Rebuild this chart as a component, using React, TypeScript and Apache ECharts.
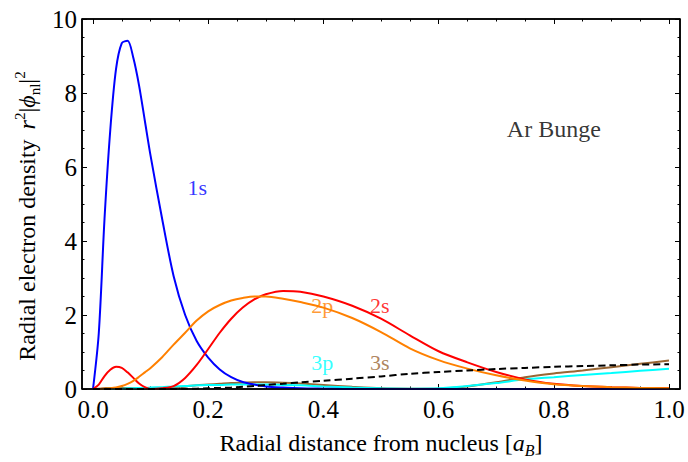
import React, { useEffect, useRef } from "react";
import * as echarts from "echarts";

// radial distance grid [a_B]
const radius = [0, 0.01, 0.02, 0.03, 0.04, 0.05, 0.06, 0.07, 0.08, 0.09, 0.1, 0.12, 0.14, 0.16, 0.18, 0.2, 0.22, 0.24, 0.26, 0.28, 0.3, 0.33, 0.36, 0.4, 0.45, 0.5, 0.55, 0.6, 0.65, 0.7, 0.75, 0.8, 0.85, 0.9, 0.95, 1.0];

const rho1s = [0, 1.5, 4.6, 7.0, 8.65, 9.35, 9.41, 8.95, 8.2, 7.25, 6.3, 4.6, 3.05, 2.0, 1.3, 0.85, 0.53, 0.32, 0.19, 0.12, 0.07, 0.04, 0.02, 0.01, 0, 0, 0, 0, 0, 0, 0, 0, 0, 0, 0, 0];
const rho2s = [0, 0.12, 0.35, 0.52, 0.6, 0.57, 0.45, 0.3, 0.15, 0.05, 0.0, 0.02, 0.08, 0.3, 0.65, 1.08, 1.52, 1.9, 2.2, 2.42, 2.56, 2.65, 2.63, 2.5, 2.25, 1.9, 1.45, 1.02, 0.72, 0.46, 0.26, 0.14, 0.08, 0.05, 0.03, 0.02];
const rho2p = [0, 0, 0.01, 0.02, 0.04, 0.08, 0.14, 0.22, 0.33, 0.45, 0.57, 0.86, 1.2, 1.52, 1.85, 2.1, 2.27, 2.39, 2.46, 2.5, 2.5, 2.44, 2.35, 2.2, 1.92, 1.54, 1.1, 0.78, 0.55, 0.37, 0.23, 0.13, 0.08, 0.05, 0.03, 0.02];
const rho3s = [0, 0.01, 0.02, 0.03, 0.03, 0.03, 0.03, 0.02, 0.02, 0.02, 0.02, 0.03, 0.05, 0.07, 0.1, 0.12, 0.14, 0.16, 0.17, 0.18, 0.18, 0.17, 0.15, 0.11, 0.06, 0.02, 0.01, 0.01, 0.07, 0.18, 0.32, 0.42, 0.5, 0.59, 0.68, 0.77];
const rho3p = [0, 0, 0, 0.01, 0.01, 0.01, 0.02, 0.02, 0.03, 0.03, 0.04, 0.05, 0.07, 0.08, 0.1, 0.11, 0.11, 0.12, 0.12, 0.12, 0.12, 0.11, 0.1, 0.07, 0.04, 0.02, 0.01, 0.02, 0.08, 0.16, 0.26, 0.32, 0.38, 0.43, 0.49, 0.55];
const rhoDashed = [0, 0, 0, 0, 0, 0, 0, 0, 0, 0, 0, 0, 0, 0.01, 0.01, 0.02, 0.03, 0.04, 0.06, 0.08, 0.11, 0.14, 0.18, 0.22, 0.28, 0.34, 0.41, 0.46, 0.5, 0.54, 0.57, 0.6, 0.62, 0.64, 0.66, 0.67];

const xMajorTicks = [0, 0.2, 0.4, 0.6, 0.8, 1.0];
const xMinorTicks = [0.05, 0.1, 0.15, 0.25, 0.3, 0.35, 0.45, 0.5, 0.55, 0.65, 0.7, 0.75, 0.85, 0.9, 0.95];
const yTicks = { min: 0, max: 10, interval: 2 };

const annotationText = ["1s", "2p", "2s", "3p", "3s", "Ar Bunge"];
const annotationX = [0.181, 0.398, 0.498, 0.398, 0.498, 0.8];
const annotationY = [5.44, 2.25, 2.25, 0.71, 0.71, 7.03];
const annotationColor = ["#0000ff", "#ff8000", "#ff0000", "#00ffff", "#996633", "#000000"];
const annotationSize = [22, 22, 22, 22, 22, 24];

const SERIF = "'Liberation Serif', 'Times New Roman', serif";

const W = 688;
const H = 462;
const GRID = { left: 82, right: 8, top: 19, bottom: 73 };
const DATA_W = 576; // pixel span of x from 0 to 1
const X_PAD = (W - GRID.left - GRID.right - DATA_W) / 2 / DATA_W;

const tickLabelStyle = { fontFamily: SERIF, fontSize: 25, color: "#000", fontWeight: "normal" as const };

function lineSeries(name: string, values: number[], color: string, dashed = false) {
  return {
    name,
    type: "line",
    xAxisIndex: 0,
    yAxisIndex: 0,
    data: radius.map((r, i) => [r, values[i]]),
    showSymbol: false,
    smooth: 0.3,
    silent: true,
    lineStyle: { color, width: 2, type: dashed ? [7, 4] : "solid" },
    z: 3,
  };
}

function xAxisDef(position: "bottom" | "top", ticks: number[], len: number, showLabel: boolean, showLine: boolean) {
  return {
    type: "value",
    position,
    min: -X_PAD,
    max: 1 + X_PAD,
    axisLine: { show: showLine, onZero: false, lineStyle: { color: "#000", width: 1.5 } },
    axisTick: { show: true, inside: true, length: len, customValues: ticks, lineStyle: { color: "#000", width: 1 } },
    splitLine: { show: false },
    axisLabel: {
      show: showLabel,
      customValues: ticks,
      ...tickLabelStyle,
      margin: 8,
      formatter: (v: number) => v.toFixed(1),
    },
  };
}

function yAxisDef(position: "left" | "right", showLabel: boolean) {
  return {
    type: "value",
    position,
    ...yTicks,
    axisLine: { show: true, onZero: false, lineStyle: { color: "#000", width: 1.5 } },
    axisTick: { show: true, inside: true, length: 5, lineStyle: { color: "#000", width: 1 } },
    minorTick: { show: true, splitNumber: 4, length: 2.5, lineStyle: { color: "#000", width: 1 } },
    splitLine: { show: false },
    minorSplitLine: { show: false },
    axisLabel: {
      show: showLabel,
      ...tickLabelStyle,
      margin: 5,
      formatter: (v: number) => String(Math.round(v)),
    },
  };
}

export default function App() {
  const ref = useRef<HTMLDivElement>(null);

  useEffect(() => {
    if (!ref.current) return;
    const chart = echarts.init(ref.current, undefined, { renderer: "svg" });
    const fl = GRID.left;
    const fr = W - GRID.right;
    const ft = GRID.top;
    const fb = H - GRID.bottom;
    const frameStyle = { stroke: "#000", lineWidth: 1.6 };

    chart.setOption({
      animation: false,
      backgroundColor: "#ffffff",
      textStyle: { fontFamily: SERIF },
      grid: { ...GRID, containLabel: false },
      xAxis: [
        xAxisDef("bottom", xMajorTicks, 5, true, true),
        xAxisDef("top", xMajorTicks, 5, false, true),
        xAxisDef("bottom", xMinorTicks, 2.5, false, false),
        xAxisDef("top", xMinorTicks, 2.5, false, false),
      ],
      yAxis: [yAxisDef("left", true), yAxisDef("right", false)],
      series: [
        lineSeries("3s", rho3s, "#996633"),
        lineSeries("3p", rho3p, "#00ffff"),
        lineSeries("1s", rho1s, "#0000ff"),
        lineSeries("2s", rho2s, "#ff0000"),
        lineSeries("2p", rho2p, "#ff8000"),
        lineSeries("total", rhoDashed, "#000000", true),
        {
          type: "scatter",
          xAxisIndex: 0,
          yAxisIndex: 0,
          symbolSize: 0,
          silent: true,
          z: 5,
          data: annotationText.map((t, i) => ({
            name: t,
            value: [annotationX[i], annotationY[i]],
            label: {
              show: true,
              position: "inside",
              formatter: t,
              color: annotationColor[i],
              fontFamily: SERIF,
              fontSize: annotationSize[i],
            },
          })),
        },
      ],
      graphic: [
        { type: "line", silent: true, z: 20, shape: { x1: fl, y1: ft, x2: fr, y2: ft }, style: frameStyle },
        { type: "line", silent: true, z: 20, shape: { x1: fl, y1: fb, x2: fr, y2: fb }, style: frameStyle },
        { type: "line", silent: true, z: 20, shape: { x1: fl, y1: ft, x2: fl, y2: fb }, style: frameStyle },
        { type: "line", silent: true, z: 20, shape: { x1: fr, y1: ft, x2: fr, y2: fb }, style: frameStyle },
        {
          type: "text",
          silent: true,
          x: (fl + fr) / 2,
          y: 443,
          style: {
            text: "Radial distance from nucleus [{i|a}{sub|B}]",
            align: "center",
            verticalAlign: "middle",
            fontFamily: SERIF,
            fontSize: 24,
            fill: "#000",
            rich: {
              i: { fontFamily: SERIF, fontSize: 24, fontStyle: "italic", fill: "#000", lineHeight: 30, verticalAlign: "middle" },
              sub: { fontFamily: SERIF, fontSize: 16, fontStyle: "italic", fill: "#000", lineHeight: 30, verticalAlign: "bottom", padding: [8, 0, 0, 0] },
            },
          },
        },
        {
          type: "text",
          silent: true,
          x: 27,
          y: 216,
          rotation: Math.PI / 2,
          style: {
            text: "Radial electron density {r|r}{sup|2}|{i|ϕ}{sub|nl}|{sup|2}",
            align: "center",
            verticalAlign: "middle",
            fontFamily: SERIF,
            fontSize: 24,
            fill: "#000",
            rich: {
              r: { fontFamily: SERIF, fontSize: 24, fontStyle: "italic", fill: "#000", lineHeight: 30, verticalAlign: "middle", padding: [0, 0, 0, 4] },
              i: { fontFamily: SERIF, fontSize: 24, fontStyle: "italic", fill: "#000", lineHeight: 30, verticalAlign: "middle" },
              sup: { fontFamily: SERIF, fontSize: 15, fill: "#000", lineHeight: 30, verticalAlign: "top", padding: [0, 0, 8, 0] },
              sub: { fontFamily: SERIF, fontSize: 15, fill: "#000", lineHeight: 30, verticalAlign: "bottom", padding: [8, 0, 0, 0] },
            },
          },
        },
      ],
    });
    return () => chart.dispose();
  }, []);

  return <div ref={ref} style={{ width: W, height: H, position: "absolute", left: 0, top: 0 }} />;
}
